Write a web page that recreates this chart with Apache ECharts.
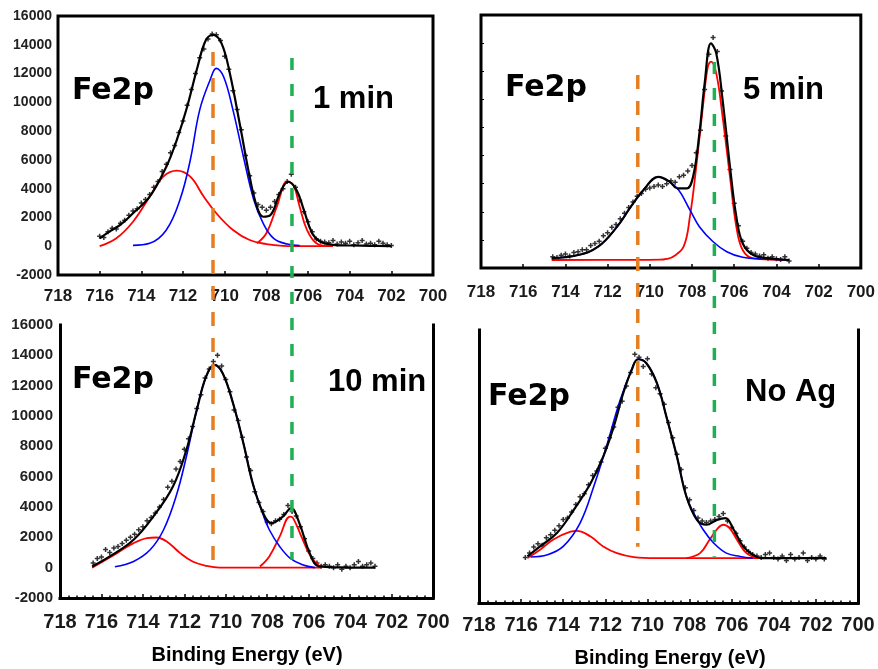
<!DOCTYPE html>
<html><head><meta charset="utf-8">
<script src="https://cdn.jsdelivr.net/npm/echarts@6/dist/echarts.min.js"></script>
<style>html,body{margin:0;padding:0;background:#fff;}#c{width:878px;height:669px;}</style>
</head><body><div id="c"></div>
<script>
// ---------------- DATA: [binding energy (eV), intensity (counts)] ----------------
const xMin = 700, xMax = 718, xStep = 2;          // binding-energy axis (ticks 718 ... 700)
const yMin = -2000, yMax = 16000, yStep = 2000;   // intensity axis (ticks -2000 ... 16000)
const y5Min = 0, y5Max = 18000;                   // hidden intensity axis of the 5 min panel

const panelLabels = ['1 min', '5 min', '10 min', 'No Ag'];

// ---- 1 min ----
const p1Scatter = [[716.0,700],[715.8,600],[715.6,1000],[715.4,1250],[715.2,1200],[715.0,1600],[714.8,1800],[714.6,2150],[714.4,2450],[714.2,2600],[714.0,3000],[713.8,3250],[713.6,3600],[713.4,4100],[713.2,4500],[713.0,5200],[712.8,5700],[712.6,6500],[712.4,7000],[712.2,7900],[712.0,8700],[711.8,9800],[711.6,10900],[711.4,12000],[711.2,13100],[711.0,13700],[710.8,14400],[710.6,14750],[710.4,14700],[710.2,14300],[710.0,13200],[709.8,12300],[709.6,10800],[709.4,9500],[709.2,8100],[709.0,6300],[708.8,4900],[708.6,3700],[708.4,2900],[708.2,2700],[708.0,2500],[707.8,2700],[707.6,3100],[707.4,3600],[707.2,4000],[707.0,4500],[706.8,5000],[706.6,4100],[706.4,3200],[706.2,2400],[706.0,1700],[705.8,1000],[705.6,500],[705.4,350],[705.2,300],[705.0,250],[704.8,400],[704.6,150],[704.4,300],[704.2,200],[704.0,350],[703.8,100],[703.6,250],[703.4,400],[703.2,150],[703.0,200],[702.8,100],[702.6,350],[702.4,200],[702.2,100],[702.0,50]];
const p1Fit = [[716.0,550],[715.5,1050],[715.0,1500],[714.4,2290],[713.6,3440],[712.8,5530],[712.3,7380],[711.8,9690],[711.3,12470],[710.9,14330],[710.55,14680],[710.15,14100],[709.75,12010],[709.25,8300],[708.8,4830],[708.45,2740],[708.15,2050],[707.8,2170],[707.35,3680],[706.95,4480],[706.55,3900],[706.2,2520],[705.8,900],[705.4,310],[704.8,100],[704.0,50],[703.0,30],[702.0,0]];
const p1Blue = [[714.4,60],[713.6,200],[712.8,1130],[712.15,3210],[711.65,5990],[711.2,9460],[710.7,11550],[710.4,12360],[710.05,11780],[709.6,9460],[709.1,6220],[708.6,3210],[708.15,1590],[707.65,550],[707.0,150],[706.4,40]];
const p1RedA = [[716.0,0],[715.2,550],[714.4,1700],[713.6,3440],[712.95,4830],[712.3,5250],[711.65,4830],[711.0,3440],[710.4,2290],[709.6,1130],[708.8,430],[708.0,150],[707.2,30],[706.0,0],[704.8,0]];
const p1RedB = [[708.45,200],[708.0,900],[707.5,2740],[707.0,4480],[706.7,4250],[706.4,2740],[706.05,1130],[705.6,200],[705.0,0]];

// ---- 5 min ----
const p2Scatter = [[714.6,800],[714.4,750],[714.2,900],[714.0,1000],[713.8,850],[713.6,1100],[713.4,1150],[713.2,1300],[713.0,1300],[712.8,1600],[712.6,1750],[712.4,1900],[712.2,2300],[712.0,2500],[711.8,2900],[711.6,3100],[711.4,3500],[711.2,3900],[711.0,4300],[710.8,4700],[710.6,5100],[710.4,5300],[710.2,5600],[710.0,5700],[709.8,5800],[709.6,5900],[709.4,5800],[709.2,6000],[709.0,6200],[708.8,6100],[708.6,6500],[708.4,6600],[708.2,6900],[708.0,7300],[707.8,8200],[707.6,9800],[707.4,12700],[707.2,15200],[707.0,16400],[706.8,15400],[706.6,12600],[706.4,9400],[706.2,7000],[706.0,4600],[705.8,3000],[705.6,1900],[705.4,1400],[705.2,1100],[705.0,1000],[704.8,850],[704.6,950],[704.4,700],[704.2,800],[704.0,650],[703.8,600],[703.6,800],[703.4,500]];
const p2Fit = [[714.65,690],[713.4,925],[712.45,1515],[711.55,2940],[710.9,4360],[710.3,5550],[709.6,6490],[709.05,6140],[708.7,5670],[708.25,5670],[707.95,6490],[707.65,9580],[707.4,13140],[707.1,15980],[706.85,15270],[706.55,11950],[706.2,7200],[705.9,3650],[705.6,1760],[705.1,925],[704.3,690],[703.4,570]];
const p2Blue = [[714.65,690],[713.4,925],[712.45,1515],[711.55,2940],[710.9,4360],[710.3,5550],[709.6,6490],[709.35,6380],[708.7,5670],[708.1,4130],[707.65,2940],[707.0,1870],[706.35,1160],[705.6,760],[704.6,640],[703.4,570]];
const p2Red = [[714.65,570],[711.0,575],[709.5,590],[709.2,650],[708.9,800],[708.4,1515],[708.1,3650],[707.8,7200],[707.45,11950],[707.25,14320],[707.1,14680],[706.85,13850],[706.55,10760],[706.2,6490],[705.9,2940],[705.6,1280],[705.1,690],[703.4,570]];

// ---- 10 min ----
const p3Scatter = [[716.4,300],[716.2,600],[716.0,700],[715.8,1200],[715.6,1000],[715.4,1300],[715.2,1400],[715.0,1600],[714.8,1800],[714.6,2000],[714.4,2200],[714.2,2500],[714.0,2700],[713.8,3100],[713.6,3300],[713.4,3600],[713.2,4000],[713.0,4500],[712.8,5300],[712.6,5700],[712.4,6500],[712.2,7000],[712.0,7800],[711.8,8500],[711.6,9300],[711.4,10500],[711.2,11400],[711.0,12500],[710.8,13100],[710.6,13600],[710.4,14000],[710.2,13300],[710.0,12400],[709.8,11600],[709.6,10400],[709.4,9700],[709.2,8600],[709.0,7300],[708.8,6400],[708.6,5000],[708.4,4300],[708.2,3700],[708.0,3000],[707.8,2900],[707.6,3100],[707.4,3200],[707.2,3500],[707.0,4100],[706.8,3700],[706.6,3400],[706.4,2700],[706.2,1900],[706.0,1100],[705.8,600],[705.6,300],[705.4,100],[705.2,200],[705.0,100],[704.8,0],[704.6,200],[704.4,-100],[704.2,100],[704.0,0],[703.8,200],[703.6,400],[703.4,100],[703.2,200],[703.0,300],[702.8,100]];
const p3Fit = [[716.45,80],[715.6,740],[714.45,1840],[713.5,3370],[712.55,5350],[711.9,7770],[711.4,10400],[710.95,12600],[710.55,13370],[710.15,12820],[709.65,10840],[709.15,8210],[708.7,5570],[708.2,3600],[707.8,2940],[707.25,3370],[706.85,3930],[706.45,2940],[705.95,960],[705.5,80],[704.5,20],[702.8,0]];
const p3Blue = [[715.35,60],[714.45,410],[713.65,1180],[713.0,2500],[712.4,4690],[711.9,7330],[711.4,10400],[710.95,12600],[710.55,13370],[710.15,12820],[709.65,10840],[709.15,8210],[708.7,5570],[708.2,3500],[707.9,2500],[707.4,1400],[706.9,630],[706.3,190],[705.7,0]];
const p3RedA = [[716.45,0],[715.25,960],[714.45,1620],[713.8,1950],[713.35,1990],[712.85,1730],[712.2,960],[711.6,410],[710.95,125],[710.3,0],[705.4,0]];
const p3RedB = [[708.35,80],[707.9,740],[707.4,2050],[706.9,3370],[706.75,3270],[706.35,2050],[705.9,740],[705.4,0]];

// ---- No Ag ----
const p4Scatter = [[715.8,1000],[715.6,1300],[715.4,1700],[715.2,1900],[715.0,1800],[714.8,2300],[714.6,2500],[714.4,2800],[714.2,3100],[714.0,3500],[713.8,3600],[713.6,4000],[713.4,4500],[713.2,5000],[713.0,5200],[712.8,5800],[712.6,6400],[712.4,6700],[712.2,7300],[712.0,8200],[711.8,8900],[711.6,9600],[711.4,10900],[711.2,11300],[711.0,12300],[710.8,13200],[710.6,14400],[710.4,14200],[710.2,13600],[710.0,14100],[709.8,13100],[709.6,12200],[709.4,11800],[709.2,11100],[709.0,9900],[708.8,8900],[708.6,7800],[708.4,6800],[708.2,5600],[708.0,4800],[707.8,4100],[707.6,3600],[707.4,3400],[707.2,3300],[707.0,3400],[706.8,3500],[706.6,3700],[706.4,3900],[706.2,3400],[706.0,3000],[705.8,2600],[705.6,2100],[705.4,1700],[705.2,1400],[705.0,1200],[704.8,1100],[704.6,1000],[704.4,1200],[704.2,1300],[704.0,1000],[703.8,900],[703.6,1100],[703.4,800],[703.2,1200],[703.0,900],[702.8,1000],[702.6,1300],[702.4,800],[702.2,1000],[702.0,900],[701.8,1100],[701.6,900]];
const p4Fit = [[715.7,1070],[715.1,1730],[714.3,2610],[713.5,4140],[712.7,5900],[712.1,7650],[711.6,9630],[711.15,11830],[710.75,13370],[710.45,14070],[710.05,13810],[709.55,12490],[709.1,10290],[708.6,7650],[708.15,5020],[707.65,3480],[707.2,3160],[706.7,3480],[706.3,3600],[705.9,2830],[705.45,1730],[705.0,1180],[704.6,960],[701.5,960]];
const p4Blue = [[715.55,1030],[714.75,1180],[714.0,1730],[713.2,3270],[712.55,5680],[711.9,8540],[711.3,11370],[710.75,13370],[710.45,14070],[710.05,13810],[709.55,12490],[709.1,10290],[708.6,7650],[708.15,5020],[707.8,3930],[707.35,2830],[706.85,1950],[706.25,1290],[705.6,1070],[705.0,960]];
const p4RedA = [[715.7,960],[715.1,1510],[714.45,2210],[713.65,2710],[713.35,2760],[712.7,2380],[712.1,1730],[711.45,1290],[710.65,1030],[709.6,960],[704.65,960]];
const p4RedB = [[708.15,960],[707.5,1290],[707.05,2170],[706.65,2940],[706.4,3160],[706.1,2940],[705.7,2060],[705.3,1290],[704.8,960]];

// dashed reference lines: energy, and the intensity where they start (upper panel) / stop (lower panel)
const refEnergy   = [710.56, 706.77, 710.57, 706.94];
const refTopValue = [13500, 13080, 13730, 14650];
const refBotValue = [-270, 520, 1710, 1050];
const refTopPanel = [0, 0, 1, 1];
const refBotPanel = [2, 2, 3, 3];
const refColor    = ['#E67E22', '#1FAF55', '#E67E22', '#1FAF55'];

// ---------------- CHART ----------------
const AX_FONT = '"Liberation Sans", Arial, sans-serif';
const plusSym = 'path://M-0.3,-1H0.3V-0.3H1V0.3H0.3V1H-0.3V0.3H-1V-0.3H-0.3Z';
const panels = [
  {scatter:p1Scatter, fit:p1Fit, blue:p1Blue, reds:[p1RedA, p1RedB]},
  {scatter:p2Scatter, fit:p2Fit, blue:p2Blue, reds:[p2Red]},
  {scatter:p3Scatter, fit:p3Fit, blue:p3Blue, reds:[p3RedA, p3RedB]},
  {scatter:p4Scatter, fit:p4Fit, blue:p4Blue, reds:[p4RedA, p4RedB]}
];

const grids = [
  {left:58, top:16, width:375, height:259, show:true, borderColor:'#000', borderWidth:3, backgroundColor:'transparent'},
  {left:481, top:15, width:385, height:253, show:true, borderColor:'#000', borderWidth:3, backgroundColor:'transparent'},
  {left:60, top:325, width:373, height:273},
  {left:479, top:330, width:379, height:273}
];
const xCfg = [
  {line:false, minor:false, fs:17, margin:13},
  {line:false, minor:false, fs:17, margin:16},
  {line:true, minor:true, fs:20, margin:14},
  {line:true, minor:true, fs:20, margin:12}
];
const plain = v => String(v);
const xAxes = xCfg.map((c, i) => ({
  type:'value', gridIndex:i, min:xMin, max:xMax, interval:xStep, inverse:true,
  axisLine:{show:c.line, onZero:false, lineStyle:{color:'#000', width:3, cap:'square'}},
  axisTick:{show:true, inside:true, length:4, lineStyle:{color:'#000', width:1.5}},
  minorTick:{show:c.minor, splitNumber:5, length:2.5, lineStyle:{color:'#000', width:1.5}},
  splitLine:{show:false},
  axisLabel:{show:true, fontSize:c.fs, fontWeight:'bold', fontFamily:AX_FONT, color:'#1a1a1a',
             margin:c.margin, showMinLabel:true, showMaxLabel:true, formatter:plain}
}));
const yBase = (i, extra) => Object.assign({
  type:'value', gridIndex:i, min:yMin, max:yMax, interval:yStep,
  splitLine:{show:false}, axisTick:{show:false},
  axisLine:{show:false, onZero:false, lineStyle:{color:'#000', width:3, cap:'square'}},
  axisLabel:{show:false}
}, extra);
const yAxes = [
  yBase(0, {axisLabel:{show:true, fontSize:14, fontWeight:'bold', fontFamily:AX_FONT, color:'#222', margin:6, formatter:plain}}),
  yBase(1, {min:y5Min, max:y5Max, axisTick:{show:true, inside:true, length:3, lineStyle:{color:'#000'}}}),
  yBase(2, {axisLine:{show:true, onZero:false, lineStyle:{color:'#000', width:3, cap:'square'}},
            axisLabel:{show:true, fontSize:15, fontWeight:'bold', fontFamily:AX_FONT, color:'#222', margin:7, formatter:plain}}),
  yBase(3, {axisLine:{show:true, onZero:false, lineStyle:{color:'#000', width:3, cap:'square'}}}),
  yBase(2, {position:'right', axisLine:{show:true, onZero:false, lineStyle:{color:'#000', width:3, cap:'square'}}}),
  yBase(3, {position:'right', axisLine:{show:true, onZero:false, lineStyle:{color:'#000', width:3, cap:'square'}}})
];

const series = [];
const scatterIdx = [];
panels.forEach((p, i) => {
  scatterIdx.push(series.length);
  series.push({type:'scatter', xAxisIndex:i, yAxisIndex:i, data:p.scatter, symbol:plusSym, symbolSize:5,
               itemStyle:{color:'#000'}, silent:true, z:2});
  const lineBase = {type:'line', xAxisIndex:i, yAxisIndex:i, showSymbol:false, symbol:'none', smooth:0.4,
                    silent:true, z:3};
  p.reds.forEach(r => series.push(Object.assign({}, lineBase, {data:r, lineStyle:{color:'#FF0000', width:1.8}})));
  series.push(Object.assign({}, lineBase, {data:p.blue, lineStyle:{color:'#0000FF', width:1.6}}));
  series.push(Object.assign({}, lineBase, {data:p.fit, lineStyle:{color:'#000', width:2.2}, z:4}));
});

const chart = echarts.init(document.getElementById('c'));
chart.setOption({animation:false, backgroundColor:'#fff', grid:grids, xAxis:xAxes, yAxis:yAxes, series:series});

// text labels
const fe = {fontSize:30, fontWeight:'bold', fontFamily:'"DejaVu Sans", sans-serif'};
const mn = {fontSize:31, fontWeight:'bold', fontFamily:AX_FONT};
const be = {fontSize:20, fontWeight:'bold', fontFamily:AX_FONT};
const textPos = [
  ['Fe2p', 72, 91, fe, 'left'], [panelLabels[0], 313, 99, mn, 'left'],
  ['Fe2p', 505, 88.5, fe, 'left'], [panelLabels[1], 743, 90, mn, 'left'],
  ['Fe2p', 72, 380, fe, 'left'], [panelLabels[2], 328, 382.5, mn, 'left'],
  ['Fe2p', 488, 397.5, fe, 'left'], [panelLabels[3], 745, 392.5, mn, 'left'],
  ['Binding Energy (eV)', 247, 655, be, 'center'], ['Binding Energy (eV)', 670, 658, be, 'center']
];
const graphics = textPos.map((t, k) => ({
  type:'text', id:'t' + k, x:t[1], y:t[2], z:50, silent:true,
  style:Object.assign({text:t[0], fill:'#000', align:t[4], verticalAlign:'middle'}, t[3])
}));

// dashed reference lines positioned through the panels' own scales
refEnergy.forEach((e, k) => {
  const top = chart.convertToPixel({seriesIndex:scatterIdx[refTopPanel[k]]}, [e, refTopValue[k]]);
  const bot = chart.convertToPixel({seriesIndex:scatterIdx[refBotPanel[k]]}, [e, refBotValue[k]]);
  graphics.push({type:'line', id:'r' + k, z:60, silent:true,
    shape:{x1:top[0], y1:top[1], x2:top[0], y2:bot[1]},
    style:{stroke:refColor[k], lineWidth:3.5, lineDash:k % 2 === 0 ? [14, 12] : [12, 14]}});
});
chart.setOption({graphic:{elements:graphics}});
</script>
</body></html>
